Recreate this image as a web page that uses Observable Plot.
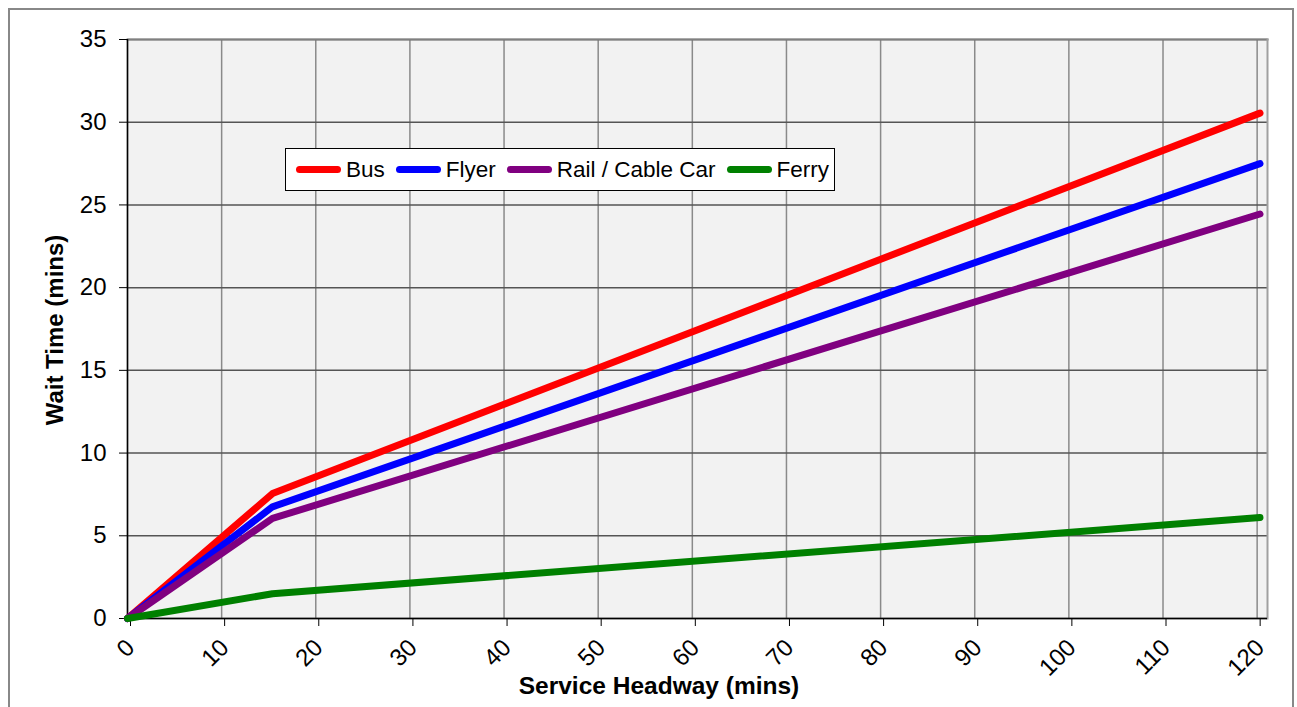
<!DOCTYPE html>
<html><head><meta charset="utf-8">
<script src="https://cdn.jsdelivr.net/npm/d3@7"></script>
<script src="https://cdn.jsdelivr.net/npm/@observablehq/plot@0.6"></script>
<style>
html,body{margin:0;padding:0;background:#fff;}
#wrap{position:relative;width:1297px;height:707px;overflow:hidden;font-family:"Liberation Sans",Arial,sans-serif;}
#outer{position:absolute;left:8px;top:8px;width:1286px;height:720px;border:2px solid #888;box-sizing:border-box;pointer-events:none;}
#chart{position:absolute;left:0;top:0;}
#chart svg g[aria-label$="tick label"] text{font-size:24px;}
#legend{position:absolute;left:285px;top:148px;width:550px;height:43px;box-sizing:border-box;border:1.5px solid #000;background:#fff;display:flex;align-items:center;padding-left:10px;font-size:22.5px;white-space:nowrap;overflow:visible;}
.item{display:flex;align-items:center;margin-right:11px;flex-shrink:0;white-space:nowrap;}
.sw{width:45px;height:7px;border-radius:4px;margin-right:5px;flex-shrink:0;}
.ytitle{position:absolute;left:55px;top:330px;transform:translate(-50%,-50%) rotate(-90deg);font-weight:bold;font-size:24px;white-space:nowrap;}
.xtitle{position:absolute;left:659px;top:686px;transform:translate(-50%,-50%);font-weight:bold;font-size:24.5px;white-space:nowrap;}
</style></head>
<body>
<div id="wrap">
<div id="chart"></div>
<div id="outer"></div>
<div id="legend"></div>
<div class="ytitle">Wait Time (mins)</div>
<div class="xtitle">Service Headway (mins)</div>
</div>
<script>
const seriesNames = ["Bus", "Flyer", "Rail / Cable Car", "Ferry"];
const seriesColors = ["#ff0000", "#0000ff", "#800080", "#008000"];
const headway = [0, 15.4, 120.3];
const bus = [0, 7.55, 30.55];
const flyer = [0, 6.75, 27.5];
const rail = [0, 6.05, 24.45];
const ferry = [0, 1.5, 6.1];
const xTicks = [0, 10, 20, 30, 40, 50, 60, 70, 80, 90, 100, 110, 120];
const yTicks = [0, 5, 10, 15, 20, 25, 30, 35];

const seriesValues = [bus, flyer, rail, ferry];
const data = [];
seriesNames.forEach((name, i) => {
  headway.forEach((h, j) => data.push({series: name, x: h, y: seriesValues[i][j]}));
});

const chart = Plot.plot({
  width: 1297, height: 707,
  marginLeft: 127, marginRight: 30, marginTop: 39, marginBottom: 89,
  style: {background: "transparent", fontFamily: "'Liberation Sans', Arial, sans-serif", fontSize: "24px", color: "#000"},
  x: {domain: [0, 121.1], label: null},
  y: {domain: [0, 35], label: null},
  color: {domain: seriesNames, range: seriesColors},
  marks: [
    Plot.frame({fill: "#f2f2f2", stroke: "none"}),
    Plot.gridX(xTicks, {stroke: "#8a8a8a", strokeOpacity: 1, strokeWidth: 1.5}),
    Plot.gridY(yTicks, {stroke: "#555", strokeOpacity: 1, strokeWidth: 1.5}),
    Plot.frame({anchor: "top", stroke: "#808080", strokeWidth: 2}),
    Plot.frame({anchor: "right", stroke: "#a0a0a0", strokeWidth: 2}),
    Plot.ruleX([0], {stroke: "#000", strokeWidth: 1.5}),
    Plot.ruleY([0], {stroke: "#000", strokeWidth: 1.5}),
    Plot.axisY(yTicks, {tickSize: 8, tickPadding: 13, fontSize: 24, stroke: "#000", label: null}),
    Plot.axisX(xTicks, {tickSize: 8, tickPadding: 17, dx: 3, tickRotate: -45, fontSize: 24, stroke: "#000", label: null}),
    Plot.line(data, {x: "x", y: "y", z: "series", stroke: "series", strokeWidth: 7, strokeLinecap: "round", strokeLinejoin: "round"})
  ]
});
document.getElementById("chart").appendChild(chart);

const legend = document.getElementById("legend");
seriesNames.forEach((name, i) => {
  const it = document.createElement("div");
  it.className = "item";
  const sw = document.createElement("div");
  sw.className = "sw";
  sw.style.background = seriesColors[i];
  const t = document.createElement("span");
  t.textContent = name;
  it.appendChild(sw); it.appendChild(t);
  legend.appendChild(it);
});
</script>
</body></html>
